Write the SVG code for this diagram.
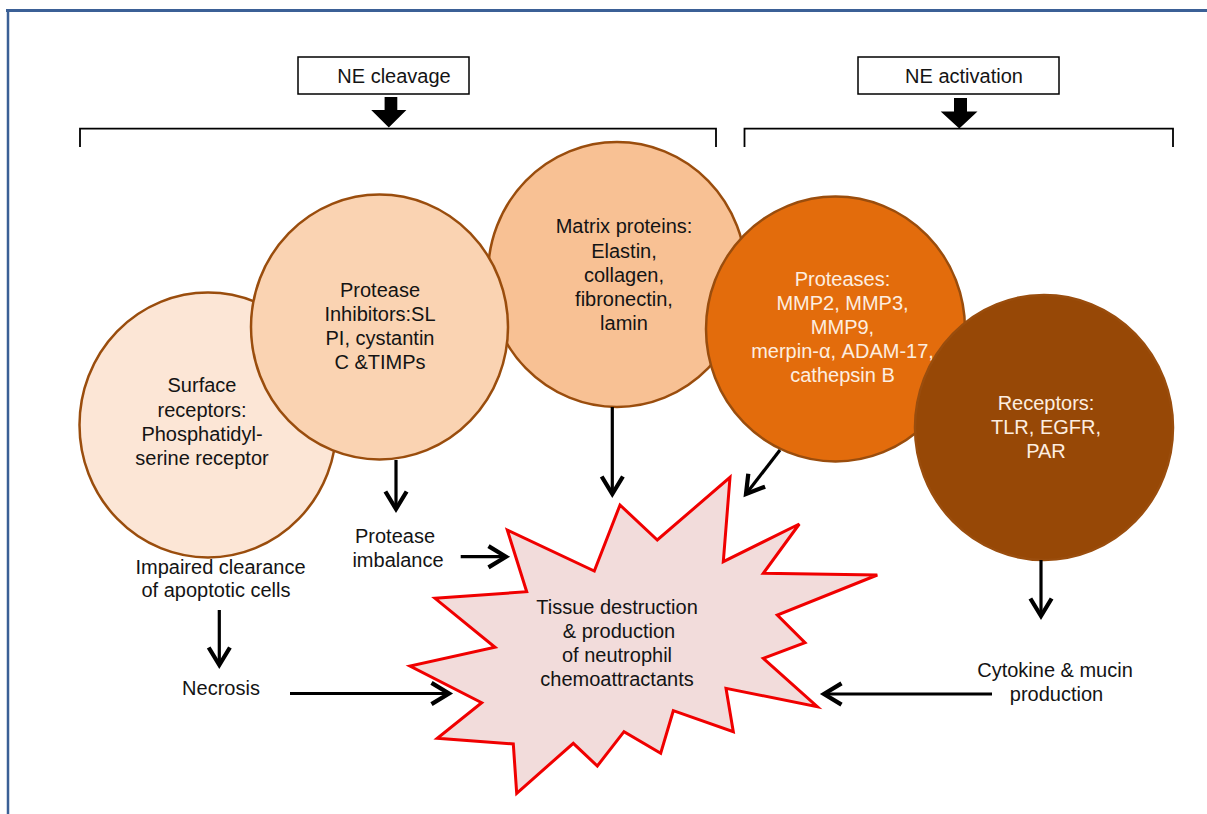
<svg xmlns="http://www.w3.org/2000/svg" width="1207" height="814" viewBox="0 0 1207 814">
<defs>
<style>
text{font-family:"Liberation Sans",Arial,sans-serif;font-size:20px;fill:#141414;text-anchor:middle}
.lt{fill:#fdeee0}
.circ{stroke:#9a4d0d;stroke-width:2.5}
.con{stroke:#000;stroke-width:3.2;fill:none;marker-end:url(#ah)}
.brk{stroke:#000;stroke-width:1.8;fill:none}
.box{fill:#fff;stroke:#000;stroke-width:1.5}
</style>
<marker id="ah" markerUnits="userSpaceOnUse" markerWidth="30" markerHeight="30" viewBox="-20 -12 24 24" refX="0" refY="0" orient="auto">
<path d="M-14,-8.5 L0,0 L-14,8.5" fill="none" stroke="#000" stroke-width="3.4"/>
</marker>
</defs>
<rect width="1207" height="814" fill="#fff"/>
<g id="frame">
<line x1="6" y1="10.5" x2="1207" y2="10.5" stroke="#3b6096" stroke-width="3"/>
<line x1="8" y1="9" x2="8" y2="814" stroke="#3b6096" stroke-width="2.5"/>
</g>
<g id="ne-cleavage">
<rect class="box" x="298" y="57" width="171" height="37"/>
<text x="394" y="83">NE cleavage</text>
<polygon points="384.6,97 397.3,97 397.3,110 406.4,110 388.8,127.5 371.2,110 384.6,110" fill="#000"/>
</g>
<g id="ne-activation">
<rect class="box" x="858" y="57" width="201" height="37"/>
<text x="964" y="83">NE activation</text>
<polygon points="954,98 967,98 967,111.5 977.5,111.5 959.3,128.5 940.7,111.5 954,111.5" fill="#000"/>
</g>
<g id="brackets">
<polyline class="brk" points="80,147 80,128.7 716,128.7 716,147"/>
<polyline class="brk" points="744.5,147 744.5,128.7 1173,128.7 1173,147"/>
</g>
<g id="surface-receptors">
<ellipse class="circ" cx="208" cy="425" rx="128.5" ry="132.5" fill="#fce6d6"/>
<text x="202" y="392">Surface</text>
<text x="202" y="416.5">receptors:</text>
<text x="202" y="440.5">Phosphatidyl-</text>
<text x="202" y="465">serine receptor</text>
</g>
<g id="matrix-proteins">
<ellipse class="circ" cx="617" cy="274.5" rx="129" ry="132.5" fill="#f8c194"/>
<text x="624" y="233">Matrix proteins:</text>
<text x="624" y="257.5">Elastin,</text>
<text x="624" y="281.5">collagen,</text>
<text x="624" y="305.5">fibronectin,</text>
<text x="624" y="329.5">lamin</text>
</g>
<g id="protease-inhibitors">
<ellipse class="circ" cx="379.5" cy="327" rx="128.5" ry="132.5" fill="#fad3b2"/>
<text x="380" y="297">Protease</text>
<text x="380" y="321">Inhibitors:SL</text>
<text x="380" y="345">PI, cystantin</text>
<text x="380" y="369">C &amp;TIMPs</text>
</g>
<g id="proteases">
<ellipse class="circ" cx="835.5" cy="329" rx="129.5" ry="132.5" fill="#e36c0c"/>
<text class="lt" x="842.5" y="285.5">Proteases:</text>
<text class="lt" x="842.5" y="309.5">MMP2, MMP3,</text>
<text class="lt" x="842.5" y="333.5">MMP9,</text>
<text class="lt" x="842.5" y="358">merpin-α, ADAM-17,</text>
<text class="lt" x="842.5" y="382">cathepsin B</text>
</g>
<g id="receptors">
<ellipse class="circ" cx="1044" cy="427.5" rx="129" ry="132.5" fill="#974806"/>
<text class="lt" x="1046" y="410">Receptors:</text>
<text class="lt" x="1046" y="434">TLR, EGFR,</text>
<text class="lt" x="1046" y="457.5">PAR</text>
</g>
<g id="tissue-destruction">
<polygon points="507.3,530 594.3,571 620,505 657.3,540 730,477.3 723.3,561.7 799.3,524 763.3,573.3 877.3,575 777.3,615 805,642.7 763.3,658.3 817.3,706.7 726,688.3 733.3,731.7 673.3,710.7 660.7,753.3 624,731.7 597.3,766 573.3,743.3 516.7,793.3 513.3,744 437.3,738.3 481.7,702.7 410,666 495,647.3 435,598.3 526.7,591.7" fill="#f2dcdb" stroke="#f00000" stroke-width="3" stroke-linejoin="miter"/>
<text x="617" y="613.5">Tissue destruction</text>
<text x="619" y="637.5">&amp; production</text>
<text x="617" y="661.5">of neutrophil</text>
<text x="617" y="685.5">chemoattractants</text>
</g>
<g id="labels">
<text x="220.5" y="573.5">Impaired clearance</text>
<text x="216" y="597">of apoptotic cells</text>
<text x="221" y="695">Necrosis</text>
<text x="395" y="543">Protease</text>
<text x="398" y="567">imbalance</text>
<text x="1055" y="677">Cytokine &amp; mucin</text>
<text x="1056.5" y="701">production</text>
</g>
<g id="connectors">
<line class="con" x1="396" y1="460" x2="396" y2="509"/>
<line class="con" x1="612.3" y1="407" x2="612.3" y2="494"/>
<line class="con" x1="780" y1="450" x2="746" y2="494"/>
<line class="con" x1="1041" y1="560" x2="1041" y2="616"/>
<line class="con" x1="219.3" y1="610" x2="219.3" y2="665"/>
<line class="con" x1="460.7" y1="556.7" x2="506" y2="556.7"/>
<line class="con" x1="290" y1="693.5" x2="449" y2="693.5"/>
<line class="con" x1="992" y1="694" x2="824" y2="694"/>
</g>
</svg>
